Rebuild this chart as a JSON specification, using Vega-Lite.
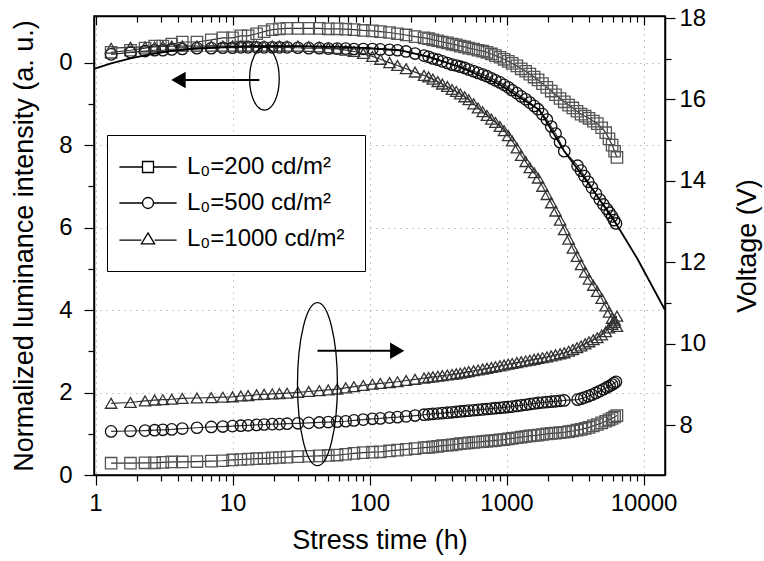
{
"$schema": "https://vega.github.io/schema/vega-lite/v6.json",
"width": 571, "height": 459,
"autosize": {"type": "none"},
"padding": {"left": 94, "top": 16, "right": 99, "bottom": 86},
"background": "white",
"config": {
 "font": "Liberation Sans",
 "view": {"stroke": "black", "strokeWidth": 1.5},
 "axis": {"domainColor": "black", "domainWidth": 1.5, "tickColor": "black", "tickWidth": 1.2, "labelColor": "black", "titleColor": "black", "labelFontSize": 24, "titleFontSize": 27, "titleFontWeight": "normal", "labelFont": "Liberation Sans", "titleFont": "Liberation Sans", "labelOverlap": false, "labelFlush": false}
},
"datasets": {
 "lum": [
  {"s":"200","t":1.3,"y":1.025},{"s":"200","t":1.8,"y":1.03},{"s":"200","t":2.3,"y":1.035},{"s":"200","t":2.7,"y":1.04},{"s":"200","t":3.1,"y":1.04},{"s":"200","t":3.6,"y":1.045},{"s":"200","t":4.3,"y":1.05},{"s":"200","t":5.5,"y":1.05},{"s":"200","t":7,"y":1.055},{"s":"200","t":8.5,"y":1.06},{"s":"200","t":10,"y":1.06},{"s":"200","t":11.5,"y":1.065},{"s":"200","t":13,"y":1.065},{"s":"200","t":15,"y":1.07},{"s":"200","t":17,"y":1.075},{"s":"200","t":19.5,"y":1.08},{"s":"200","t":22,"y":1.082},{"s":"200","t":25,"y":1.083},{"s":"200","t":30,"y":1.083},{"s":"200","t":36,"y":1.083},{"s":"200","t":43,"y":1.083},{"s":"200","t":50,"y":1.082},{"s":"200","t":58,"y":1.082},{"s":"200","t":67,"y":1.081},{"s":"200","t":77,"y":1.08},{"s":"200","t":90,"y":1.078},{"s":"200","t":105,"y":1.077},{"s":"200","t":120,"y":1.075},{"s":"200","t":140,"y":1.073},{"s":"200","t":160,"y":1.07},{"s":"200","t":185,"y":1.067},{"s":"200","t":215,"y":1.063},{"s":"200","t":250,"y":1.06},{"s":"200","t":290,"y":1.055},{"s":"200","t":340,"y":1.05},{"s":"200","t":400,"y":1.045},{"s":"200","t":460,"y":1.04},{"s":"200","t":530,"y":1.035},{"s":"200","t":620,"y":1.03},{"s":"200","t":720,"y":1.025},{"s":"200","t":830,"y":1.017},{"s":"200","t":960,"y":1.008},{"s":"200","t":1100,"y":0.998},{"s":"200","t":1280,"y":0.985},{"s":"200","t":1480,"y":0.972},{"s":"200","t":1700,"y":0.958},{"s":"200","t":1970,"y":0.94},{"s":"200","t":2280,"y":0.922},{"s":"200","t":2640,"y":0.905},{"s":"200","t":3050,"y":0.89},{"s":"200","t":3500,"y":0.875},{"s":"200","t":4000,"y":0.865},{"s":"200","t":4600,"y":0.852},{"s":"200","t":5300,"y":0.83},{"s":"200","t":5900,"y":0.8},{"s":"200","t":6400,"y":0.77},
  {"s":"200","t":270,"y":1.058},{"s":"200","t":315,"y":1.053},{"s":"200","t":370,"y":1.048},{"s":"200","t":430,"y":1.043},{"s":"200","t":495,"y":1.038},{"s":"200","t":575,"y":1.033},{"s":"200","t":670,"y":1.028},{"s":"200","t":775,"y":1.021},{"s":"200","t":895,"y":1.013},{"s":"200","t":1030,"y":1.003},{"s":"200","t":1190,"y":0.992},{"s":"200","t":1380,"y":0.979},{"s":"200","t":1590,"y":0.965},{"s":"200","t":1830,"y":0.949},{"s":"200","t":2120,"y":0.931},{"s":"200","t":2460,"y":0.913},{"s":"200","t":2840,"y":0.897},{"s":"200","t":3270,"y":0.882},{"s":"200","t":3750,"y":0.87},{"s":"200","t":4300,"y":0.858},{"s":"200","t":4950,"y":0.842},{"s":"200","t":5600,"y":0.815},{"s":"200","t":6150,"y":0.785},
  {"s":"500","t":1.3,"y":1.02},{"s":"500","t":1.8,"y":1.025},{"s":"500","t":2.3,"y":1.028},{"s":"500","t":2.7,"y":1.03},{"s":"500","t":3.1,"y":1.03},{"s":"500","t":3.6,"y":1.032},{"s":"500","t":4.3,"y":1.033},{"s":"500","t":5.5,"y":1.035},{"s":"500","t":7,"y":1.035},{"s":"500","t":8.5,"y":1.036},{"s":"500","t":10,"y":1.036},{"s":"500","t":11.5,"y":1.037},{"s":"500","t":13,"y":1.037},{"s":"500","t":15,"y":1.037},{"s":"500","t":17,"y":1.037},{"s":"500","t":19.5,"y":1.037},{"s":"500","t":22,"y":1.037},{"s":"500","t":25,"y":1.037},{"s":"500","t":30,"y":1.036},{"s":"500","t":36,"y":1.035},{"s":"500","t":43,"y":1.035},{"s":"500","t":50,"y":1.034},{"s":"500","t":58,"y":1.034},{"s":"500","t":67,"y":1.034},{"s":"500","t":77,"y":1.033},{"s":"500","t":90,"y":1.033},{"s":"500","t":105,"y":1.033},{"s":"500","t":120,"y":1.032},{"s":"500","t":140,"y":1.031},{"s":"500","t":160,"y":1.03},{"s":"500","t":185,"y":1.027},{"s":"500","t":215,"y":1.022},{"s":"500","t":250,"y":1.017},{"s":"500","t":290,"y":1.01},{"s":"500","t":340,"y":1.003},{"s":"500","t":400,"y":0.995},{"s":"500","t":460,"y":0.99},{"s":"500","t":530,"y":0.983},{"s":"500","t":620,"y":0.975},{"s":"500","t":720,"y":0.967},{"s":"500","t":830,"y":0.957},{"s":"500","t":960,"y":0.946},{"s":"500","t":1100,"y":0.933},{"s":"500","t":1280,"y":0.918},{"s":"500","t":1480,"y":0.903},{"s":"500","t":1700,"y":0.887},{"s":"500","t":1970,"y":0.862},{"s":"500","t":2280,"y":0.828},{"s":"500","t":2640,"y":0.785},{"s":"500","t":3300,"y":0.75},{"s":"500","t":3700,"y":0.725},{"s":"500","t":4200,"y":0.697},{"s":"500","t":4800,"y":0.668},{"s":"500","t":5400,"y":0.645},{"s":"500","t":5900,"y":0.627},{"s":"500","t":6300,"y":0.61},
  {"s":"500","t":270,"y":1.014},{"s":"500","t":315,"y":1.007},{"s":"500","t":370,"y":0.999},{"s":"500","t":430,"y":0.993},{"s":"500","t":495,"y":0.987},{"s":"500","t":575,"y":0.979},{"s":"500","t":670,"y":0.971},{"s":"500","t":775,"y":0.962},{"s":"500","t":895,"y":0.952},{"s":"500","t":1030,"y":0.94},{"s":"500","t":1190,"y":0.926},{"s":"500","t":1380,"y":0.911},{"s":"500","t":1590,"y":0.895},{"s":"500","t":1830,"y":0.875},{"s":"500","t":2120,"y":0.845},{"s":"500","t":2460,"y":0.807},{"s":"500","t":3500,"y":0.738},{"s":"500","t":3950,"y":0.711},{"s":"500","t":4500,"y":0.682},{"s":"500","t":5100,"y":0.656},{"s":"500","t":5650,"y":0.636},{"s":"500","t":6100,"y":0.618},
  {"s":"1000","t":1.3,"y":1.035},{"s":"1000","t":1.8,"y":1.037},{"s":"1000","t":2.3,"y":1.038},{"s":"1000","t":2.7,"y":1.038},{"s":"1000","t":3.1,"y":1.039},{"s":"1000","t":3.6,"y":1.04},{"s":"1000","t":4.3,"y":1.04},{"s":"1000","t":5.5,"y":1.04},{"s":"1000","t":7,"y":1.04},{"s":"1000","t":8.5,"y":1.04},{"s":"1000","t":10,"y":1.04},{"s":"1000","t":11.5,"y":1.04},{"s":"1000","t":13,"y":1.04},{"s":"1000","t":15,"y":1.04},{"s":"1000","t":17,"y":1.04},{"s":"1000","t":19.5,"y":1.04},{"s":"1000","t":22,"y":1.04},{"s":"1000","t":25,"y":1.04},{"s":"1000","t":30,"y":1.04},{"s":"1000","t":36,"y":1.039},{"s":"1000","t":43,"y":1.038},{"s":"1000","t":50,"y":1.036},{"s":"1000","t":58,"y":1.034},{"s":"1000","t":67,"y":1.03},{"s":"1000","t":77,"y":1.027},{"s":"1000","t":90,"y":1.022},{"s":"1000","t":105,"y":1.015},{"s":"1000","t":120,"y":1.008},{"s":"1000","t":140,"y":1.0},{"s":"1000","t":160,"y":0.993},{"s":"1000","t":185,"y":0.985},{"s":"1000","t":215,"y":0.977},{"s":"1000","t":250,"y":0.969},{"s":"1000","t":290,"y":0.96},{"s":"1000","t":340,"y":0.948},{"s":"1000","t":400,"y":0.935},{"s":"1000","t":460,"y":0.924},{"s":"1000","t":530,"y":0.91},{"s":"1000","t":620,"y":0.89},{"s":"1000","t":720,"y":0.872},{"s":"1000","t":830,"y":0.855},{"s":"1000","t":960,"y":0.835},{"s":"1000","t":1100,"y":0.81},{"s":"1000","t":1280,"y":0.775},{"s":"1000","t":1480,"y":0.745},{"s":"1000","t":1700,"y":0.72},{"s":"1000","t":1970,"y":0.68},{"s":"1000","t":2280,"y":0.64},{"s":"1000","t":2640,"y":0.595},{"s":"1000","t":3050,"y":0.55},{"s":"1000","t":3500,"y":0.51},{"s":"1000","t":4000,"y":0.475},{"s":"1000","t":4600,"y":0.445},{"s":"1000","t":5300,"y":0.41},{"s":"1000","t":5900,"y":0.38},{"s":"1000","t":6400,"y":0.36},
  {"s":"1000","t":270,"y":0.965},{"s":"1000","t":315,"y":0.954},{"s":"1000","t":370,"y":0.942},{"s":"1000","t":430,"y":0.93},{"s":"1000","t":495,"y":0.917},{"s":"1000","t":575,"y":0.9},{"s":"1000","t":670,"y":0.881},{"s":"1000","t":775,"y":0.863},{"s":"1000","t":895,"y":0.845},{"s":"1000","t":1030,"y":0.823},{"s":"1000","t":1190,"y":0.793},{"s":"1000","t":1380,"y":0.76},{"s":"1000","t":1590,"y":0.733},{"s":"1000","t":1830,"y":0.7},{"s":"1000","t":2120,"y":0.66},{"s":"1000","t":2460,"y":0.618},{"s":"1000","t":2840,"y":0.572},{"s":"1000","t":3270,"y":0.53},{"s":"1000","t":3750,"y":0.492},{"s":"1000","t":4300,"y":0.46},{"s":"1000","t":4950,"y":0.428},{"s":"1000","t":5600,"y":0.395},{"s":"1000","t":6150,"y":0.37}
 ],
 "volt": [
  {"s":"200","t":1.3,"v":7.07},{"s":"200","t":1.8,"v":7.07},{"s":"200","t":2.3,"v":7.08},{"s":"200","t":2.7,"v":7.08},{"s":"200","t":3.1,"v":7.09},{"s":"200","t":3.6,"v":7.1},{"s":"200","t":4.3,"v":7.1},{"s":"200","t":5.5,"v":7.11},{"s":"200","t":7,"v":7.12},{"s":"200","t":8.5,"v":7.13},{"s":"200","t":10,"v":7.15},{"s":"200","t":11.5,"v":7.16},{"s":"200","t":13,"v":7.17},{"s":"200","t":15,"v":7.18},{"s":"200","t":17,"v":7.19},{"s":"200","t":19.5,"v":7.2},{"s":"200","t":22,"v":7.21},{"s":"200","t":25,"v":7.22},{"s":"200","t":30,"v":7.23},{"s":"200","t":36,"v":7.24},{"s":"200","t":43,"v":7.25},{"s":"200","t":50,"v":7.26},{"s":"200","t":58,"v":7.27},{"s":"200","t":67,"v":7.29},{"s":"200","t":77,"v":7.31},{"s":"200","t":90,"v":7.33},{"s":"200","t":105,"v":7.34},{"s":"200","t":120,"v":7.35},{"s":"200","t":140,"v":7.37},{"s":"200","t":160,"v":7.39},{"s":"200","t":185,"v":7.41},{"s":"200","t":215,"v":7.43},{"s":"200","t":250,"v":7.45},{"s":"200","t":290,"v":7.47},{"s":"200","t":340,"v":7.5},{"s":"200","t":400,"v":7.52},{"s":"200","t":460,"v":7.55},{"s":"200","t":530,"v":7.57},{"s":"200","t":620,"v":7.59},{"s":"200","t":720,"v":7.61},{"s":"200","t":830,"v":7.63},{"s":"200","t":960,"v":7.65},{"s":"200","t":1100,"v":7.68},{"s":"200","t":1280,"v":7.71},{"s":"200","t":1480,"v":7.74},{"s":"200","t":1700,"v":7.76},{"s":"200","t":1970,"v":7.79},{"s":"200","t":2280,"v":7.81},{"s":"200","t":2640,"v":7.83},{"s":"200","t":3050,"v":7.86},{"s":"200","t":3500,"v":7.9},{"s":"200","t":4000,"v":7.95},{"s":"200","t":4600,"v":8.02},{"s":"200","t":5300,"v":8.1},{"s":"200","t":5900,"v":8.17},{"s":"200","t":6400,"v":8.24},
  {"s":"200","t":270,"v":7.46},{"s":"200","t":315,"v":7.485},{"s":"200","t":370,"v":7.51},{"s":"200","t":430,"v":7.535},{"s":"200","t":495,"v":7.56},{"s":"200","t":575,"v":7.58},{"s":"200","t":670,"v":7.6},{"s":"200","t":775,"v":7.62},{"s":"200","t":895,"v":7.64},{"s":"200","t":1030,"v":7.665},{"s":"200","t":1190,"v":7.695},{"s":"200","t":1380,"v":7.725},{"s":"200","t":1590,"v":7.75},{"s":"200","t":1830,"v":7.775},{"s":"200","t":2120,"v":7.8},{"s":"200","t":2460,"v":7.82},{"s":"200","t":2840,"v":7.845},{"s":"200","t":3270,"v":7.88},{"s":"200","t":3750,"v":7.925},{"s":"200","t":4300,"v":7.985},{"s":"200","t":4950,"v":8.06},{"s":"200","t":5600,"v":8.135},{"s":"200","t":6150,"v":8.205},
  {"s":"500","t":1.3,"v":7.85},{"s":"500","t":1.8,"v":7.86},{"s":"500","t":2.3,"v":7.87},{"s":"500","t":2.7,"v":7.88},{"s":"500","t":3.1,"v":7.89},{"s":"500","t":3.6,"v":7.9},{"s":"500","t":4.3,"v":7.92},{"s":"500","t":5.5,"v":7.94},{"s":"500","t":7,"v":7.96},{"s":"500","t":8.5,"v":7.97},{"s":"500","t":10,"v":7.98},{"s":"500","t":11.5,"v":7.99},{"s":"500","t":13,"v":8.0},{"s":"500","t":15,"v":8.01},{"s":"500","t":17,"v":8.02},{"s":"500","t":19.5,"v":8.03},{"s":"500","t":22,"v":8.03},{"s":"500","t":25,"v":8.04},{"s":"500","t":30,"v":8.05},{"s":"500","t":36,"v":8.06},{"s":"500","t":43,"v":8.07},{"s":"500","t":50,"v":8.08},{"s":"500","t":58,"v":8.09},{"s":"500","t":67,"v":8.1},{"s":"500","t":77,"v":8.12},{"s":"500","t":90,"v":8.14},{"s":"500","t":105,"v":8.16},{"s":"500","t":120,"v":8.17},{"s":"500","t":140,"v":8.19},{"s":"500","t":160,"v":8.2},{"s":"500","t":185,"v":8.22},{"s":"500","t":215,"v":8.24},{"s":"500","t":250,"v":8.26},{"s":"500","t":290,"v":8.28},{"s":"500","t":340,"v":8.3},{"s":"500","t":400,"v":8.32},{"s":"500","t":460,"v":8.34},{"s":"500","t":530,"v":8.36},{"s":"500","t":620,"v":8.38},{"s":"500","t":720,"v":8.4},{"s":"500","t":830,"v":8.42},{"s":"500","t":960,"v":8.44},{"s":"500","t":1100,"v":8.46},{"s":"500","t":1280,"v":8.49},{"s":"500","t":1480,"v":8.52},{"s":"500","t":1700,"v":8.55},{"s":"500","t":1970,"v":8.57},{"s":"500","t":2280,"v":8.59},{"s":"500","t":2640,"v":8.61},{"s":"500","t":3300,"v":8.63},{"s":"500","t":3700,"v":8.68},{"s":"500","t":4200,"v":8.75},{"s":"500","t":4800,"v":8.84},{"s":"500","t":5400,"v":8.93},{"s":"500","t":5900,"v":9.0},{"s":"500","t":6300,"v":9.07},
  {"s":"500","t":270,"v":8.27},{"s":"500","t":315,"v":8.29},{"s":"500","t":370,"v":8.31},{"s":"500","t":430,"v":8.33},{"s":"500","t":495,"v":8.35},{"s":"500","t":575,"v":8.37},{"s":"500","t":670,"v":8.39},{"s":"500","t":775,"v":8.41},{"s":"500","t":895,"v":8.43},{"s":"500","t":1030,"v":8.45},{"s":"500","t":1190,"v":8.475},{"s":"500","t":1380,"v":8.505},{"s":"500","t":1590,"v":8.535},{"s":"500","t":1830,"v":8.56},{"s":"500","t":2120,"v":8.58},{"s":"500","t":2460,"v":8.6},{"s":"500","t":3500,"v":8.655},{"s":"500","t":3950,"v":8.715},{"s":"500","t":4500,"v":8.795},{"s":"500","t":5100,"v":8.885},{"s":"500","t":5650,"v":8.965},{"s":"500","t":6100,"v":9.035},
  {"s":"1000","t":1.3,"v":8.54},{"s":"1000","t":1.8,"v":8.56},{"s":"1000","t":2.3,"v":8.6},{"s":"1000","t":2.7,"v":8.62},{"s":"1000","t":3.1,"v":8.63},{"s":"1000","t":3.6,"v":8.64},{"s":"1000","t":4.3,"v":8.66},{"s":"1000","t":5.5,"v":8.67},{"s":"1000","t":7,"v":8.68},{"s":"1000","t":8.5,"v":8.69},{"s":"1000","t":10,"v":8.7},{"s":"1000","t":11.5,"v":8.72},{"s":"1000","t":13,"v":8.73},{"s":"1000","t":15,"v":8.75},{"s":"1000","t":17,"v":8.76},{"s":"1000","t":19.5,"v":8.77},{"s":"1000","t":22,"v":8.78},{"s":"1000","t":25,"v":8.79},{"s":"1000","t":30,"v":8.81},{"s":"1000","t":36,"v":8.83},{"s":"1000","t":43,"v":8.85},{"s":"1000","t":50,"v":8.87},{"s":"1000","t":58,"v":8.89},{"s":"1000","t":67,"v":8.92},{"s":"1000","t":77,"v":8.95},{"s":"1000","t":90,"v":8.98},{"s":"1000","t":105,"v":9.01},{"s":"1000","t":120,"v":9.03},{"s":"1000","t":140,"v":9.05},{"s":"1000","t":160,"v":9.07},{"s":"1000","t":185,"v":9.1},{"s":"1000","t":215,"v":9.13},{"s":"1000","t":250,"v":9.16},{"s":"1000","t":290,"v":9.19},{"s":"1000","t":340,"v":9.22},{"s":"1000","t":400,"v":9.25},{"s":"1000","t":460,"v":9.28},{"s":"1000","t":530,"v":9.32},{"s":"1000","t":620,"v":9.36},{"s":"1000","t":720,"v":9.4},{"s":"1000","t":830,"v":9.44},{"s":"1000","t":960,"v":9.48},{"s":"1000","t":1100,"v":9.52},{"s":"1000","t":1280,"v":9.56},{"s":"1000","t":1480,"v":9.6},{"s":"1000","t":1700,"v":9.64},{"s":"1000","t":1970,"v":9.68},{"s":"1000","t":2280,"v":9.73},{"s":"1000","t":2640,"v":9.78},{"s":"1000","t":3050,"v":9.86},{"s":"1000","t":3500,"v":9.95},{"s":"1000","t":4000,"v":10.05},{"s":"1000","t":4600,"v":10.15},{"s":"1000","t":5300,"v":10.3},{"s":"1000","t":5900,"v":10.48},{"s":"1000","t":6400,"v":10.68},
  {"s":"1000","t":270,"v":9.175},{"s":"1000","t":315,"v":9.205},{"s":"1000","t":370,"v":9.235},{"s":"1000","t":430,"v":9.265},{"s":"1000","t":495,"v":9.3},{"s":"1000","t":575,"v":9.34},{"s":"1000","t":670,"v":9.38},{"s":"1000","t":775,"v":9.42},{"s":"1000","t":895,"v":9.46},{"s":"1000","t":1030,"v":9.5},{"s":"1000","t":1190,"v":9.54},{"s":"1000","t":1380,"v":9.58},{"s":"1000","t":1590,"v":9.62},{"s":"1000","t":1830,"v":9.66},{"s":"1000","t":2120,"v":9.705},{"s":"1000","t":2460,"v":9.755},{"s":"1000","t":2840,"v":9.82},{"s":"1000","t":3270,"v":9.905},{"s":"1000","t":3750,"v":10.0},{"s":"1000","t":4300,"v":10.1},{"s":"1000","t":4950,"v":10.22},{"s":"1000","t":5600,"v":10.39},{"s":"1000","t":6150,"v":10.58}
 ],
 "fit": [
  {"t":0.975,"y":0.985},{"t":1.3,"y":0.998},{"t":1.8,"y":1.01},{"t":2.5,"y":1.02},{"t":3.5,"y":1.028},{"t":5,"y":1.033},{"t":8,"y":1.037},{"t":15,"y":1.04},{"t":30,"y":1.04},{"t":60,"y":1.038},{"t":100,"y":1.035},{"t":166,"y":1.03},{"t":275,"y":1.013},{"t":454,"y":0.99},{"t":890,"y":0.947},{"t":1740,"y":0.885},{"t":2640,"y":0.785},{"t":4000,"y":0.705},{"t":6300,"y":0.61},{"t":9000,"y":0.525},{"t":14350,"y":0.4}
 ],
 "series": [{"s":"200"},{"s":"500"},{"s":"1000"}],
 "ell1": [{"t":17.1,"y":0.961}],
 "arr1": [{"t":15.7,"t2":4.07,"y":0.958}],
 "head1": [{"t":4.07,"y":0.958}],
 "ell2": [{"t":41.7,"v":9.01}],
 "arr2": [{"t":41.7,"t2":158,"v":9.83}],
 "head2": [{"t":158,"v":9.83}]
},
"layer": [
 {
  "encoding": {
   "x": {"field": "t", "type": "quantitative", "scale": {"type": "log", "domain": [0.975, 14350], "nice": false},
    "axis": {"orient": "bottom", "title": "Stress time (h)", "values": [1,2,3,4,5,6,7,8,9,10,20,30,40,50,60,70,80,90,100,200,300,400,500,600,700,800,900,1000,2000,3000,4000,5000,6000,7000,8000,9000,10000],
     "labelExpr": "(abs(log(datum.value)/LN10 - round(log(datum.value)/LN10)) < 0.001) ? format(datum.value, 'd') : ''",
     "tickSize": {"condition": {"test": "abs(log(datum.value)/LN10 - round(log(datum.value)/LN10)) < 0.001", "value": 10}, "value": 6},
     "labelPadding": 6, "titlePadding": 12,
     "grid": true, "gridColor": "#888", "gridDash": [1, 5], "gridWidth": 1,
     "gridOpacity": {"condition": {"test": "abs(log(datum.value)/LN10 - round(log(datum.value)/LN10)) < 0.001", "value": 0.9}, "value": 0}}},
   "y": {"field": "y", "type": "quantitative", "scale": {"domain": [0, 1.113], "nice": false, "zero": false},
    "axis": {"orient": "left", "title": "Normalized luminance intensity (a. u.)", "values": [0,0.1,0.2,0.3,0.4,0.5,0.6,0.7,0.8,0.9,1.0],
     "labelExpr": "(round(datum.value*10) % 2 == 1) ? '' : (round(datum.value*10) % 10) + ''",
     "tickSize": {"condition": {"test": "round(datum.value*10) % 2 == 1", "value": 6}, "value": 10},
     "labelPadding": 12, "titlePadding": 20,
     "grid": true, "gridColor": "#888", "gridDash": [1, 5], "gridWidth": 1,
     "gridOpacity": {"condition": {"test": "round(datum.value*10) % 2 == 1 || datum.value == 0", "value": 0}, "value": 0.9}}}
  },
  "layer": [
   {"data": {"name": "lum"}, "mark": {"type": "line", "stroke": "#333", "strokeWidth": 1.2}, "encoding": {"detail": {"field": "s"}}},
   {"data": {"name": "lum"}, "mark": {"type": "point", "filled": false, "size": 130, "strokeWidth": 1.3, "opacity": 1},
    "encoding": {
     "shape": {"field": "s", "type": "nominal", "scale": {"domain": ["200","500","1000"], "range": ["square","circle","triangle-up"]}, "legend": null},
     "stroke": {"field": "s", "type": "nominal", "scale": {"domain": ["200","500","1000"], "range": ["#555","#111","#333"]}, "legend": null}
    }},
   {"data": {"name": "fit"}, "mark": {"type": "line", "stroke": "black", "strokeWidth": 1.8}, "encoding": {}},
   {"data": {"name": "ell1"}, "mark": {"type": "point", "shape": "M0,-1A0.47,1 0 1,1 0,1A0.47,1 0 1,1 0,-1Z", "size": 3969, "filled": false, "stroke": "black", "strokeWidth": 1.3, "opacity": 1}, "encoding": {}},
   {"data": {"name": "arr1"}, "mark": {"type": "rule", "stroke": "black", "strokeWidth": 2}, "encoding": {"x2": {"field": "t2"}}},
   {"data": {"name": "head1"}, "mark": {"type": "point", "shape": "triangle-left", "size": 170, "filled": true, "fill": "black", "stroke": "black", "opacity": 1}, "encoding": {}}
  ]
 },
 {
  "encoding": {
   "x": {"field": "t", "type": "quantitative", "scale": {"type": "log", "domain": [0.975, 14350], "nice": false},
    "axis": {"orient": "top", "title": null, "labels": false, "grid": false, "values": [1,2,3,4,5,6,7,8,9,10,20,30,40,50,60,70,80,90,100,200,300,400,500,600,700,800,900,1000,2000,3000,4000,5000,6000,7000,8000,9000,10000],
     "tickSize": {"condition": {"test": "abs(log(datum.value)/LN10 - round(log(datum.value)/LN10)) < 0.001", "value": -9}, "value": -6}}},
   "y": {"field": "v", "type": "quantitative", "scale": {"domain": [6.78, 18.05], "nice": false, "zero": false},
    "axis": {"orient": "right", "title": "Voltage (V)", "values": [8,9,10,11,12,13,14,15,16,17,18],
     "labelExpr": "datum.value % 2 == 0 ? datum.label : ''",
     "tickSize": {"condition": {"test": "datum.value % 2 == 1", "value": 6}, "value": 10},
     "labelPadding": 4, "titlePadding": 29, "titleAngle": 270, "titleBaseline": "top", "grid": false}}
  },
  "layer": [
   {"data": {"name": "volt"}, "mark": {"type": "line", "stroke": "#333", "strokeWidth": 1.2}, "encoding": {"detail": {"field": "s"}}},
   {"data": {"name": "volt"}, "mark": {"type": "point", "filled": false, "size": 130, "strokeWidth": 1.3, "opacity": 1},
    "encoding": {
     "shape": {"field": "s", "type": "nominal", "scale": {"domain": ["200","500","1000"], "range": ["square","circle","triangle-up"]}, "legend": null},
     "stroke": {"field": "s", "type": "nominal", "scale": {"domain": ["200","500","1000"], "range": ["#555","#111","#333"]}, "legend": null}
    }},
   {"data": {"name": "ell2"}, "mark": {"type": "point", "shape": "M0,-1A0.245,1 0 1,1 0,1A0.245,1 0 1,1 0,-1Z", "size": 26569, "filled": false, "stroke": "black", "strokeWidth": 1.3, "opacity": 1}, "encoding": {}},
   {"data": {"name": "arr2"}, "mark": {"type": "rule", "stroke": "black", "strokeWidth": 2}, "encoding": {"x2": {"field": "t2"}}},
   {"data": {"name": "head2"}, "mark": {"type": "point", "shape": "triangle-right", "size": 170, "filled": true, "fill": "black", "stroke": "black", "opacity": 1}, "encoding": {}}
  ]
 },
 {
  "data": {"name": "series"},
  "mark": {"type": "point", "filled": false, "opacity": 0, "color": "black"},
  "encoding": {
   "shape": {"field": "s", "type": "nominal",
    "scale": {"domain": ["200","500","1000"], "range": ["M-2.6,0H-0.55M0.55,0H2.6M-0.5,-0.5H0.5V0.5H-0.5Z", "M-2.6,0H-0.55M0.55,0H2.6M-0.5,0A0.5,0.5 0 1,1 0.5,0A0.5,0.5 0 1,1 -0.5,0Z", "M-2.6,0.1H-0.6M0.6,0.1H2.6M0,-0.55L0.6,0.45H-0.6Z"]},
    "legend": {"title": null, "orient": "none", "legendX": 13, "legendY": 119, "strokeColor": "black", "padding": 20, "fillColor": "white",
     "labelFontSize": 24, "labelFont": "Liberation Sans", "labelColor": "black", "labelLimit": 400,
     "labelExpr": "'L₀=' + datum.label + ' cd/m²'",
     "symbolSize": 484, "symbolOffset": 9, "labelOffset": 27, "rowPadding": 12,
     "symbolOpacity": 1, "symbolStrokeColor": "black", "symbolStrokeWidth": 1.3, "symbolFillColor": "transparent"}}
  }
 }
],
"resolve": {"scale": {"y": "independent", "shape": "independent"}, "axis": {"x": "independent"}}
}
